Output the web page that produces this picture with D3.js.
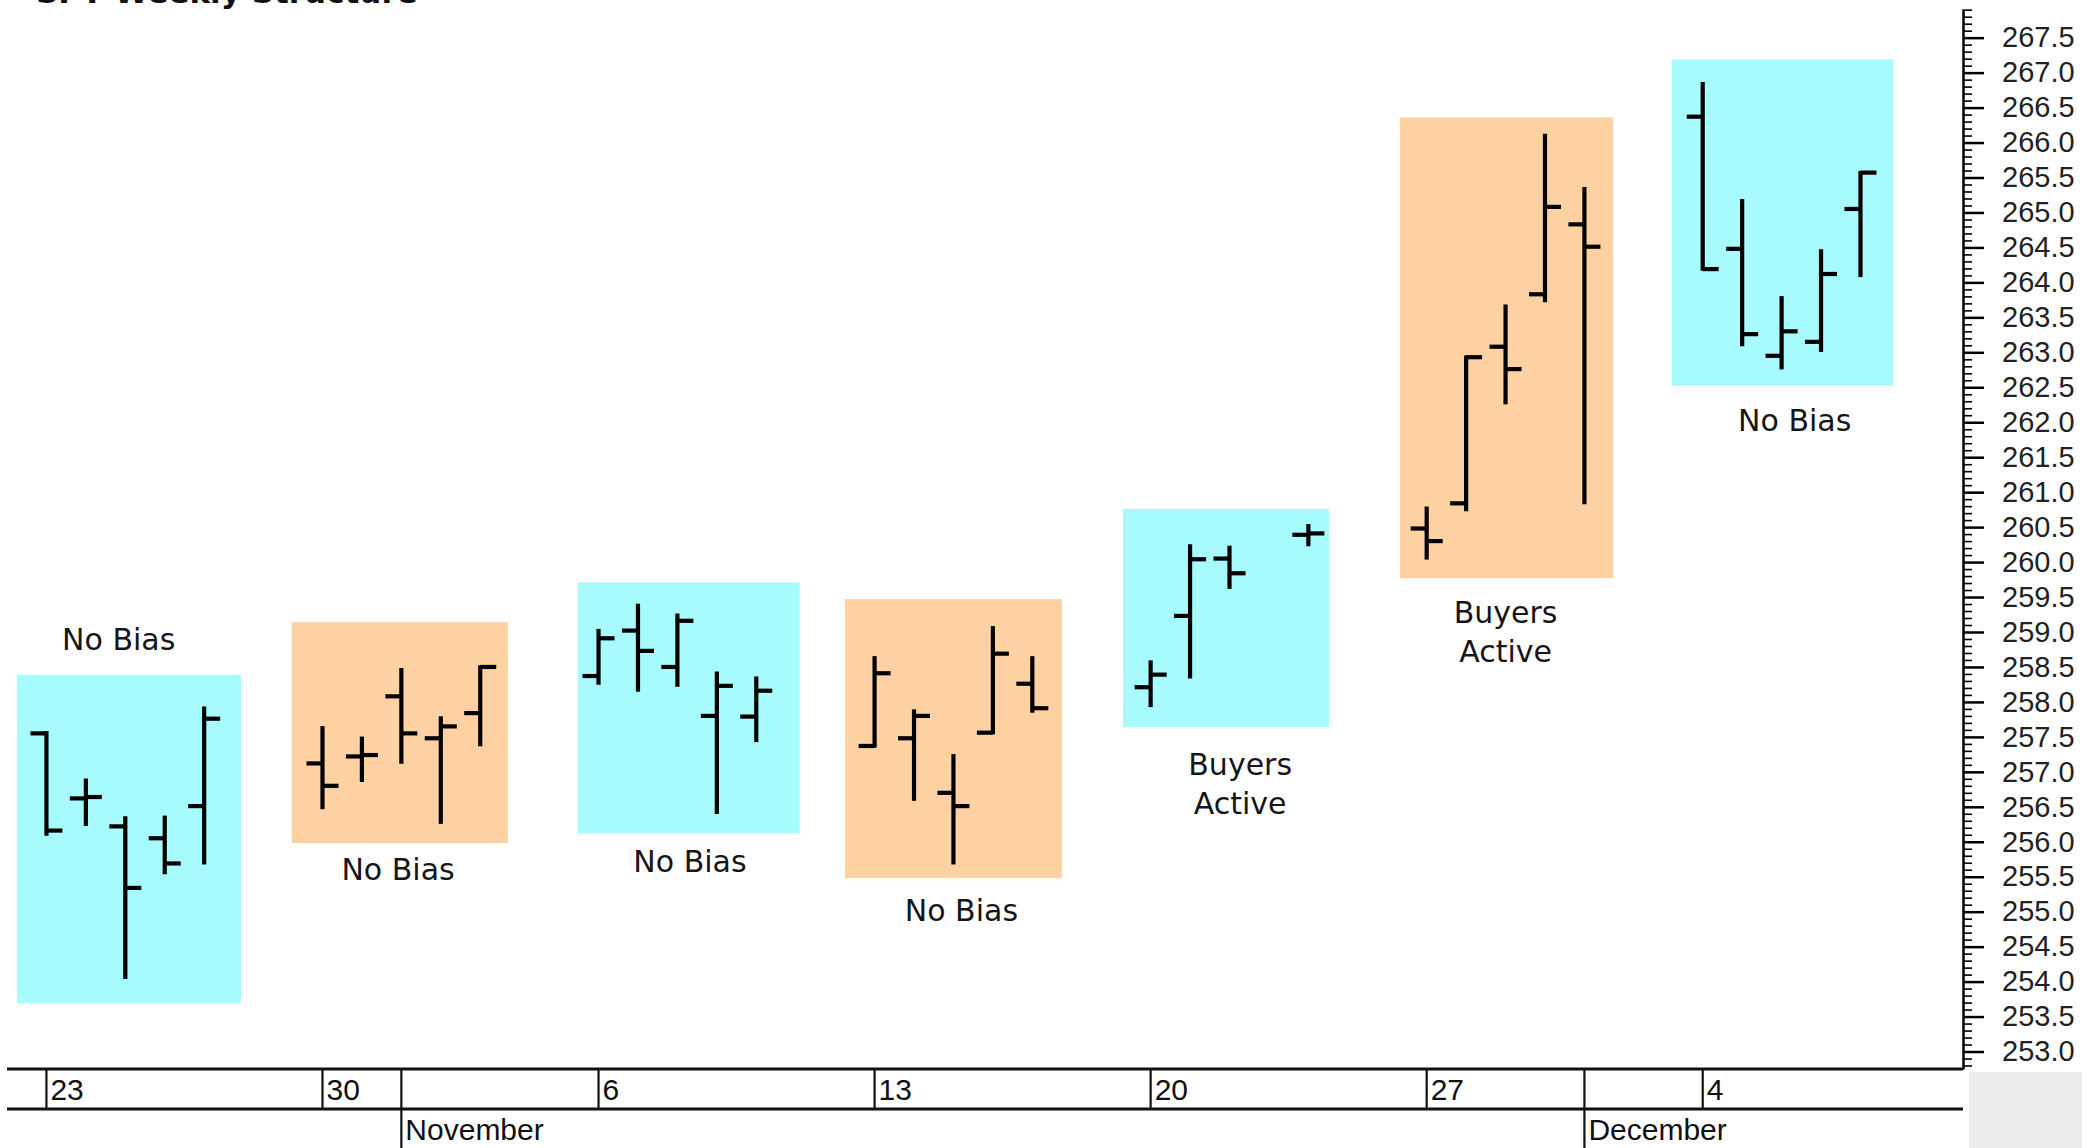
<!DOCTYPE html>
<html>
<head>
<meta charset="utf-8">
<script src="https://cdn.jsdelivr.net/npm/d3@7"></script>
<style>
  html, body { margin: 0; padding: 0; background: #fff; }
  svg { display: block; }
</style>
</head>
<body>
<svg id="chart" width="2100" height="1148"></svg>
<script>
// ---------------- DATA ----------------
const title = "SPY Weekly Structure";

const dates = [
  "2017-10-23","2017-10-24","2017-10-25","2017-10-26","2017-10-27",
  "2017-10-30","2017-10-31","2017-11-01","2017-11-02","2017-11-03",
  "2017-11-06","2017-11-07","2017-11-08","2017-11-09","2017-11-10",
  "2017-11-13","2017-11-14","2017-11-15","2017-11-16","2017-11-17",
  "2017-11-20","2017-11-21","2017-11-22","2017-11-24",
  "2017-11-27","2017-11-28","2017-11-29","2017-11-30","2017-12-01",
  "2017-12-04","2017-12-05","2017-12-06","2017-12-07","2017-12-08"
];
const opens  = [257.55,256.62,256.22,256.05,256.51, 257.12,257.22,258.08,257.48,257.84,
                258.37,259.02,258.50,257.80,257.79, 257.37,257.48,256.70,257.56,258.26,
                258.21,259.23,260.05,260.39, 260.48,260.84,263.08,263.83,264.83,
                266.37,264.48,262.95,263.15,265.05];
const highs  = [257.57,256.89,256.35,256.36,257.92, 257.64,257.49,258.47,257.78,258.51,
                259.03,259.39,259.25,258.42,258.35, 258.64,257.88,257.24,259.07,258.64,
                258.58,260.24,260.22,260.53, 260.78,262.94,263.67,266.11,265.35,
                266.85,265.18,263.79,264.46,265.58];
const lows   = [256.10,256.24,254.05,255.55,255.69, 256.48,256.87,257.13,256.27,257.38,
                258.26,258.16,258.23,256.41,257.44, 257.36,256.60,255.69,257.55,257.86,
                257.94,258.35,259.63,260.24, 260.05,260.74,262.27,263.73,260.84,
                264.18,263.10,262.77,263.02,264.09];
const closes = [256.16,256.64,255.34,255.69,257.76, 256.80,257.24,257.55,257.65,258.50,
                258.91,258.73,259.16,258.23,258.16, 258.41,257.80,256.51,258.69,257.91,
                258.39,260.04,259.84,260.41, 260.30,262.93,262.76,265.08,264.51,
                264.19,263.26,263.30,264.12,265.57];

// Highlight boxes (time span + price span) and their colours
const boxFrom   = ["2017-10-22T06:00","2017-10-29T05:15","2017-11-05T11:20","2017-11-12T06:00","2017-11-19T07:10","2017-11-26T07:40","2017-12-03T05:15"];
const boxTo     = ["2017-10-27T22:20","2017-11-03T16:50","2017-11-11T02:25","2017-11-17T18:00","2017-11-24T12:30","2017-12-01T17:30","2017-12-08T20:00"];
const boxTop    = [258.39,259.14,259.71,259.47,260.76,266.36,267.19];
const boxBottom = [253.69,255.98,256.12,255.48,257.64,259.77,262.52];
const boxKind   = ["cyan","orange","cyan","orange","cyan","orange","cyan"];

// Annotation labels
const labelLines = [["No Bias"],["No Bias"],["No Bias"],["No Bias"],["Buyers","Active"],["Buyers","Active"],["No Bias"]];
const labelAt    = ["2017-10-24T20:00","2017-10-31T22:00","2017-11-08T07:40","2017-11-15T04:50","2017-11-22T06:30","2017-11-29T00:00","2017-12-06T08:00"];
const labelPrice = [258.74,255.45,255.57,254.87,256.95,259.13,261.87];

// Axis labels
const weekTicks  = ["2017-10-23","2017-10-30","2017-11-06","2017-11-13","2017-11-20","2017-11-27","2017-12-04"];
const weekLabels = ["23","30","6","13","20","27","4"];
const monthTicks  = ["2017-11-01","2017-12-01"];
const monthLabels = ["November","December"];
const yTickMin = 253.0, yTickMax = 267.5, yTickStep = 0.5, yMinorStep = 0.1;

// ---------------- SCALES ----------------
const parseDay = d3.utcParse("%Y-%m-%d");
const parseDT  = d3.utcParse("%Y-%m-%dT%H:%M");

const svg = d3.select("#chart");
const plotLeft = 7, plotRight = 1963, plotTop = 9, plotBottom = 1069;
const bandMid = 1109, bandBottom = 1148;

const x = d3.scaleUtc()
  .domain([parseDT("2017-10-22T00:00"), parseDT("2017-12-10T14:24")])
  .range([plotLeft, plotRight]);
const y = d3.scaleLinear()
  .domain([252.75, 267.91])
  .range([plotBottom, plotTop]);

const colors = { cyan: "#a7fbfc", orange: "#fdd1a1" };

// ---------------- TITLE (cut off at top, as in the reference) ----------------
svg.append("text")
  .attr("x", 36).attr("y", 3)
  .attr("font-family", "DejaVu Sans, Verdana, sans-serif")
  .attr("font-weight", "bold")
  .attr("font-size", 31)
  .attr("fill", "#111")
  .text(title);

// ---------------- BOXES ----------------
const boxes = boxFrom.map((f, i) => ({ from: parseDT(f), to: parseDT(boxTo[i]), top: boxTop[i], bottom: boxBottom[i], kind: boxKind[i] }));
svg.append("g").selectAll("rect").data(boxes).join("rect")
  .attr("x", d => x(d.from))
  .attr("width", d => x(d.to) - x(d.from))
  .attr("y", d => y(d.top))
  .attr("height", d => y(d.bottom) - y(d.top))
  .attr("fill", d => colors[d.kind]);

// ---------------- LABELS ----------------
const labels = labelLines.map((lines, i) => ({ lines, at: parseDT(labelAt[i]), price: labelPrice[i] }));
const lg = svg.append("g")
  .attr("font-family", "DejaVu Sans, Verdana, sans-serif")
  .attr("font-size", 30)
  .attr("fill", "#161616")
  .attr("text-anchor", "middle");
labels.forEach(l => {
  l.lines.forEach((t, j) => {
    lg.append("text")
      .attr("x", x(l.at))
      .attr("y", y(l.price) + j * 39)
      .text(t);
  });
});

// ---------------- OHLC BARS ----------------
const bars = dates.map((d, i) => ({ date: parseDay(d), o: opens[i], h: highs[i], l: lows[i], c: closes[i] }));
const tickLen = 16;
const bg = svg.append("g").attr("stroke", "#000").attr("stroke-width", 4.2).attr("fill", "none");
const bar = bg.selectAll("g").data(bars).join("g");
bar.append("line")
  .attr("x1", d => x(d.date)).attr("x2", d => x(d.date))
  .attr("y1", d => y(d.h) - 1).attr("y2", d => y(d.l) + 1);
bar.append("line")
  .attr("x1", d => x(d.date) - tickLen).attr("x2", d => x(d.date))
  .attr("y1", d => y(d.o)).attr("y2", d => y(d.o));
bar.append("line")
  .attr("x1", d => x(d.date)).attr("x2", d => x(d.date) + tickLen)
  .attr("y1", d => y(d.c)).attr("y2", d => y(d.c));

// ---------------- Y AXIS (right) ----------------
const majorTicks = d3.range(yTickMin, yTickMax + 1e-6, yTickStep);
const minorTicks = d3.range(252.8, 267.91, yMinorStep).filter(v => Math.abs(v * 2 - Math.round(v * 2)) > 1e-6);

const yMinor = svg.append("g")
  .attr("transform", `translate(${plotRight},0)`)
  .call(d3.axisRight(y).tickValues(minorTicks).tickSize(9).tickSizeOuter(0).tickFormat(""));
yMinor.select(".domain").remove();
yMinor.selectAll("line").attr("stroke", "#000").attr("stroke-width", 1.6);

const yAxis = svg.append("g")
  .attr("transform", `translate(${plotRight},0)`)
  .call(d3.axisRight(y).tickValues(majorTicks).tickSize(21).tickSizeOuter(0).tickPadding(18).tickFormat(d3.format(".1f")));
yAxis.select(".domain").attr("stroke", "#000").attr("stroke-width", 2.5);
yAxis.selectAll(".tick line").attr("stroke", "#000").attr("stroke-width", 2.5);
yAxis.selectAll("text")
  .attr("font-family", "Liberation Sans, Arial, sans-serif")
  .attr("font-size", 29)
  .attr("fill", "#222");

// grey corner box
svg.append("rect")
  .attr("x", plotRight + 6).attr("y", plotBottom + 3)
  .attr("width", 113).attr("height", bandBottom - plotBottom - 3)
  .attr("fill", "#ececec");

// ---------------- X AXIS BAND ----------------
const xg = svg.append("g").attr("stroke", "#111");
xg.append("line").attr("x1", plotLeft).attr("x2", plotRight).attr("y1", plotBottom).attr("y2", plotBottom).attr("stroke-width", 2.8);
xg.append("line").attr("x1", plotLeft).attr("x2", plotRight).attr("y1", bandMid).attr("y2", bandMid).attr("stroke-width", 2.8);

const weeks = weekTicks.map((d, i) => ({ date: parseDay(d), label: weekLabels[i] }));
const months = monthTicks.map((d, i) => ({ date: parseDay(d), label: monthLabels[i] }));

xg.selectAll("line.wk").data(weeks).join("line").attr("class", "wk")
  .attr("x1", d => x(d.date)).attr("x2", d => x(d.date))
  .attr("y1", plotBottom).attr("y2", bandMid).attr("stroke-width", 2.2);
xg.selectAll("line.mo").data(months).join("line").attr("class", "mo")
  .attr("x1", d => x(d.date)).attr("x2", d => x(d.date))
  .attr("y1", plotBottom).attr("y2", bandBottom).attr("stroke-width", 2.2);

const tg = svg.append("g")
  .attr("font-family", "Liberation Sans, Arial, sans-serif")
  .attr("font-size", 30)
  .attr("fill", "#111");
tg.selectAll("text.wk").data(weeks).join("text").attr("class", "wk")
  .attr("x", d => x(d.date) + 4).attr("y", 1100).text(d => d.label);
tg.selectAll("text.mo").data(months).join("text").attr("class", "mo")
  .attr("x", d => x(d.date) + 4).attr("y", 1140).text(d => d.label);
</script>
</body>
</html>
